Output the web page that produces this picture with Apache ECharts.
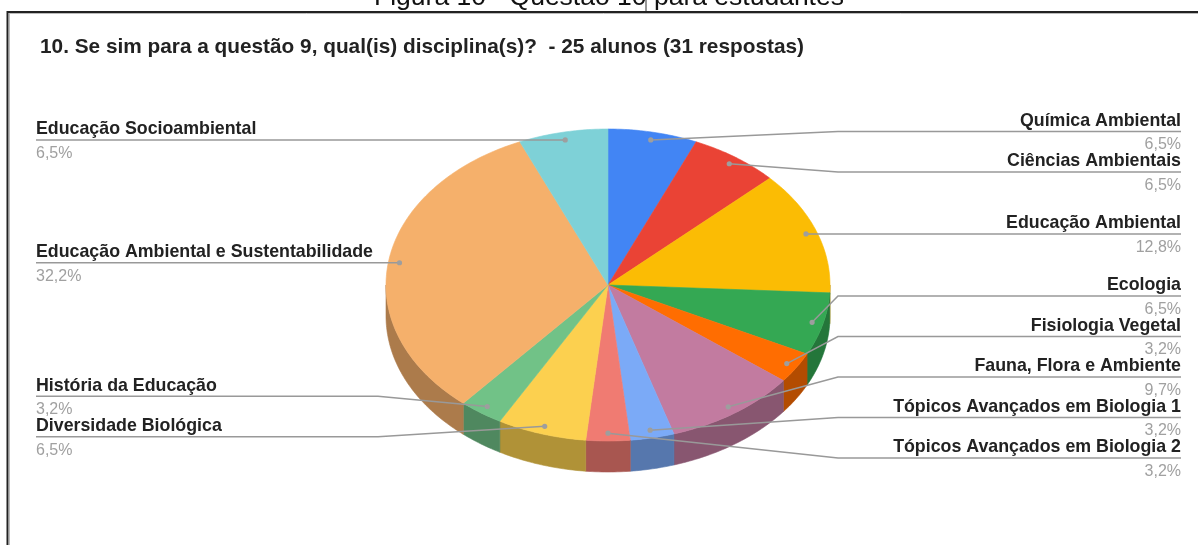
<!DOCTYPE html>
<html>
<head>
<meta charset="UTF-8">
<title>Questão 10 para estudantes</title>
<script src="https://cdn.jsdelivr.net/npm/echarts@6/dist/echarts.min.js"></script>
<style>
  html, body { margin: 0; padding: 0; background: #fff; }
  #grafico { width: 1198px; height: 545px; }
</style>
</head>
<body>
<div id="grafico"></div>
<script>
// dados (ordem horária a partir do topo)
var disciplinas = ['Química Ambiental', 'Ciências Ambientais', 'Educação Ambiental', 'Ecologia',
  'Fisiologia Vegetal', 'Fauna, Flora e Ambiente', 'Tópicos Avançados em Biologia 1',
  'Tópicos Avançados em Biologia 2', 'Diversidade Biológica', 'História da Educação',
  'Educação Ambiental e Sustentabilidade', 'Educação Socioambiental'];
var percentuais = [6.5, 6.5, 12.8, 6.5, 3.2, 9.7, 3.2, 3.2, 6.5, 3.2, 32.2, 6.5];
var cores = ['#4285F4', '#EA4335', '#FBBC04', '#34A853', '#FF6D01', '#C27BA0',
  '#7BAAF7', '#F07B72', '#FCD04F', '#71C287', '#F5B06B', '#7ED1D7'];

var titulo = '10. Se sim para a questão 9, qual(is) disciplina(s)?  - 25 alunos (31 respostas)';
var legenda = 'Figura 10 - Questão 10 para estudantes';

var FONTE = '"Liberation Sans", Arial, sans-serif';
// elipse da pizza 3D
var CX = 608, CY = 285, RX = 222, RY = 156, PROF = 31;

var total = percentuais.reduce(function (a, b) { return a + b; }, 0);
var angIni = [], angFim = [];
var acc = 0;
percentuais.forEach(function (v) {
  angIni.push(acc / total * Math.PI * 2);
  acc += v;
  angFim.push(acc / total * Math.PI * 2);
});

function ponto(a, f, dy) {
  return [CX + f * RX * Math.sin(a), CY - f * RY * Math.cos(a) + (dy || 0)];
}
function arco(a0, a1, dy) {
  var n = Math.max(2, Math.ceil((a1 - a0) / 0.015) + 1), pts = [];
  for (var k = 0; k < n; k++) pts.push(ponto(a0 + (a1 - a0) * k / (n - 1), 1, dy));
  return pts;
}
function escurecer(hex, f) {
  var c = parseInt(hex.slice(1), 16);
  var r = Math.round(((c >> 16) & 255) * f), g = Math.round(((c >> 8) & 255) * f), b = Math.round((c & 255) * f);
  return 'rgb(' + r + ',' + g + ',' + b + ')';
}
function fmt(v) { return v.toFixed(1).replace('.', ',') + '%'; }

// posições dos rótulos (evita sobreposição)
var rotulos = percentuais.map(function (v, i) {
  var m = (angIni[i] + angFim[i]) / 2;
  var p = ponto(m, 0.95);
  return { i: i, x: p[0], y: p[1], dir: m <= Math.PI + 1e-6 };
});
function distribuir(itens) {
  var g = 40.5, maxY = 458, blocos = [];
  itens.forEach(function (it, i) {
    blocos.push({ soma: it.y - i * g, n: 1, ini: i });
    while (blocos.length > 1) {
      var b = blocos[blocos.length - 1], a = blocos[blocos.length - 2];
      if (a.soma / a.n > b.soma / b.n) { a.soma += b.soma; a.n += b.n; blocos.pop(); } else break;
    }
  });
  blocos.forEach(function (b) {
    for (var k = 0; k < b.n; k++) {
      var i = b.ini + k;
      itens[i].ly = Math.min(b.soma / b.n + i * g, maxY - (itens.length - 1 - i) * g);
    }
  });
}
var ladoDir = rotulos.filter(function (r) { return r.dir; }).sort(function (a, b) { return a.y - b.y; });
var ladoEsq = rotulos.filter(function (r) { return !r.dir; }).sort(function (a, b) { return a.y - b.y; });
distribuir(ladoDir);
distribuir(ladoEsq);

var grafico = echarts.init(document.getElementById('grafico'));
grafico.setOption({
  backgroundColor: '#fff',
  animation: false,
  title: {
    text: titulo,
    left: 35,
    top: 32,
    textStyle: { fontSize: 20.8, fontWeight: 'bold', color: '#222', fontFamily: FONTE }
  },
  graphic: [
    { type: 'text', x: 609, y: -16, style: { text: legenda, font: '26.5px ' + FONTE, fill: '#111', align: 'center' } },
    { type: 'line', shape: { x1: 646, y1: 0, x2: 646, y2: 12 }, style: { stroke: '#333', lineWidth: 1 } },
    { type: 'line', shape: { x1: 7, y1: 12, x2: 1198, y2: 12 }, style: { stroke: '#222', lineWidth: 2 } },
    { type: 'line', shape: { x1: 9, y1: 13.5, x2: 1198, y2: 13.5 }, style: { stroke: '#bbb', lineWidth: 1 } },
    { type: 'line', shape: { x1: 7.5, y1: 11, x2: 7.5, y2: 545 }, style: { stroke: '#222', lineWidth: 2 } },
    { type: 'line', shape: { x1: 9.5, y1: 13, x2: 9.5, y2: 545 }, style: { stroke: '#bbb', lineWidth: 1 } }
  ],
  series: [
    {
      type: 'custom',
      coordinateSystem: 'none',
      silent: true,
      z: 2,
      data: percentuais,
      renderItem: function (params, api) {
        var i = params.dataIndex, a0 = angIni[i], a1 = angFim[i];
        var filhos = [];
        var s = Math.max(a0, Math.PI / 2), e = Math.min(a1, Math.PI * 1.5);
        if (s < e) {
          var lado = arco(s, e, 0).concat(arco(s, e, PROF).reverse());
          filhos.push({ type: 'polygon', shape: { points: lado },
            style: { fill: escurecer(cores[i], 0.7), stroke: escurecer(cores[i], 0.7), lineWidth: 0.6 } });
        }
        filhos.push({ type: 'polygon', shape: { points: [[CX, CY]].concat(arco(a0, a1, 0)) },
          style: { fill: cores[i], stroke: cores[i], lineWidth: 0.6 } });
        return { type: 'group', children: filhos };
      }
    },
    {
      type: 'custom',
      coordinateSystem: 'none',
      silent: true,
      z: 3,
      data: percentuais,
      renderItem: function (params, api) {
        var i = params.dataIndex;
        var r = rotulos[i];
        var cotovelo = r.dir ? CX + RX + 8 : CX - RX - 8;
        var fim = r.dir ? 1181 : 36;
        var alin = r.dir ? 'right' : 'left';
        return {
          type: 'group',
          children: [
            { type: 'polyline', shape: { points: [[r.x, r.y], [cotovelo, r.ly], [fim, r.ly]] },
              style: { stroke: '#999', lineWidth: 1.5, fill: null } },
            { type: 'circle', shape: { cx: r.x, cy: r.y, r: 2.6 }, style: { fill: '#9e9e9e' } },
            { type: 'text', style: { text: disciplinas[i], x: fim, y: r.ly - 10.5, align: alin, verticalAlign: 'middle',
              font: 'bold 17.8px ' + FONTE, fill: '#222' } },
            { type: 'text', style: { text: fmt(api.value(0)), x: fim, y: r.ly + 13.5, align: alin, verticalAlign: 'middle',
              font: '16px ' + FONTE, fill: '#a0a0a0' } }
          ]
        };
      }
    }
  ]
});
window.onresize = function () { grafico.resize(); };
</script>
</body>
</html>
